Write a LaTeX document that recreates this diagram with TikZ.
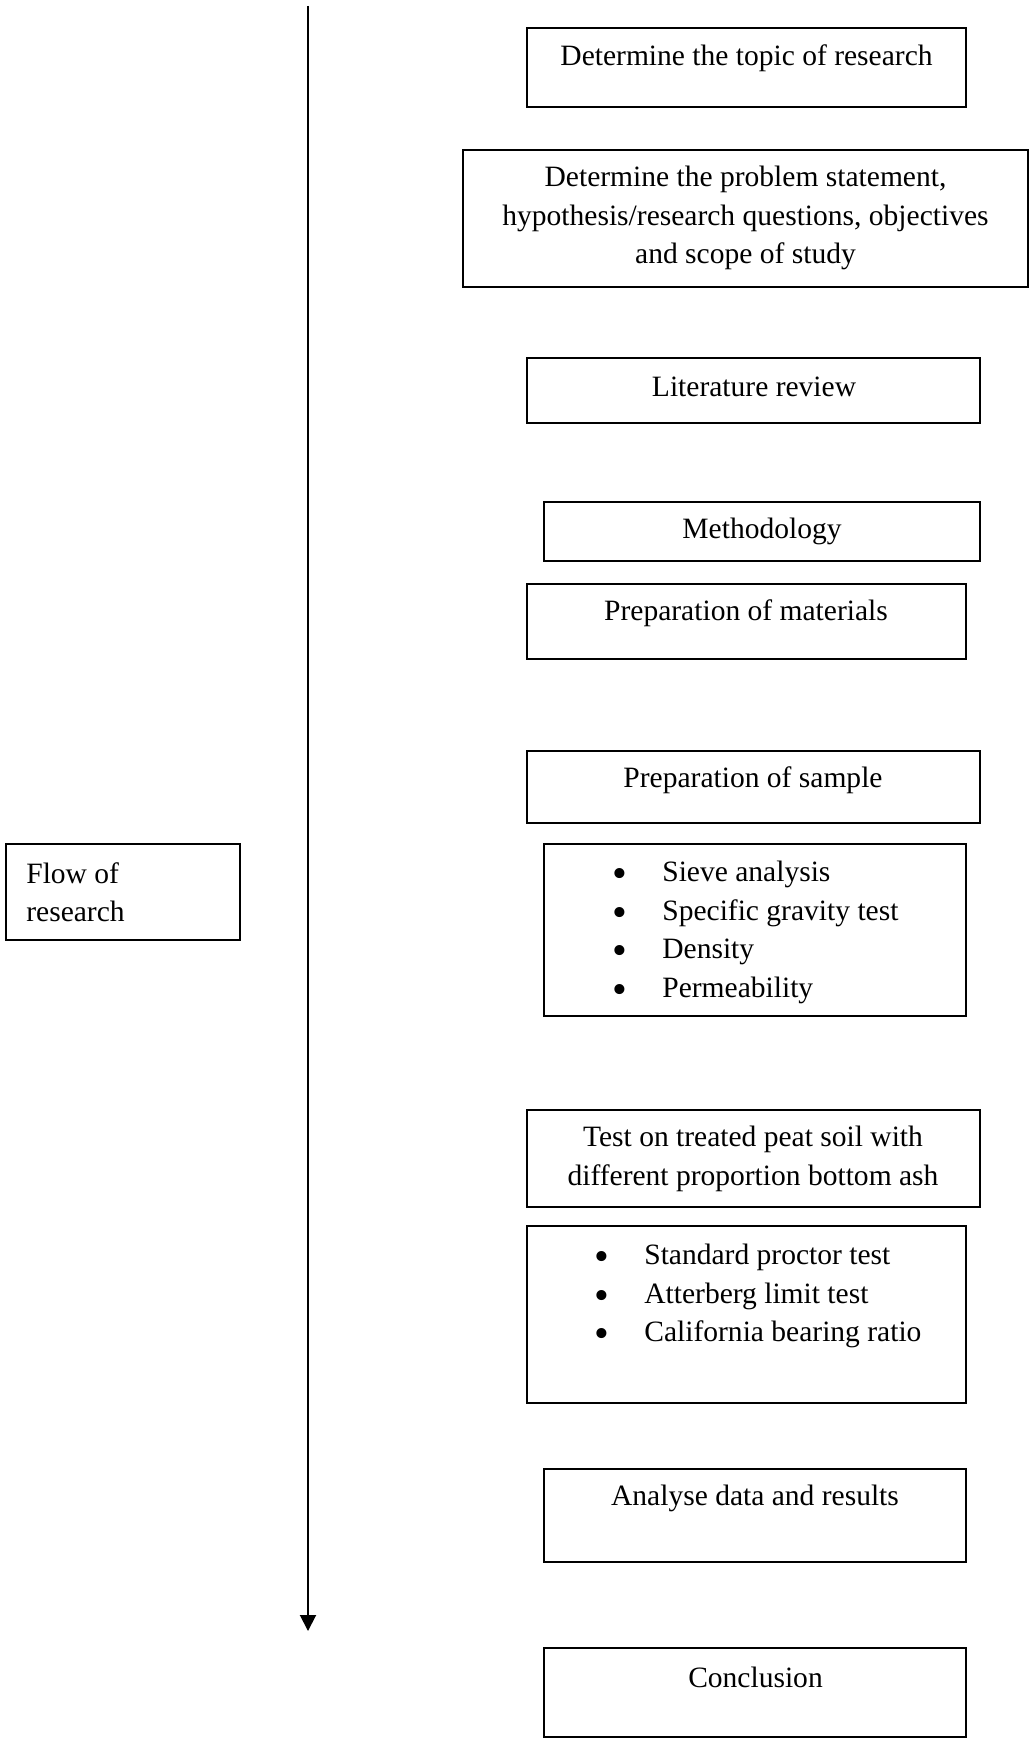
\documentclass[tikz,border=0pt]{standalone}
\usepackage{fontspec}
\setmainfont{Liberation Serif}
\usetikzlibrary{arrows.meta}

\tikzset{
	box/.style={line width=0.7pt},
	txt/.style={inner sep=0pt, align=center, font=\fontsize{16.8pt}{21.9pt}\selectfont},
	lefttxt/.style={txt, align=left, anchor=west},
	flowline/.style={line width=1.1pt, -{Triangle[width=0.32cm,length=0.32cm]}}
}
\newcommand{\bul}[1]{\makebox[0.99cm][l]{\smash{\raisebox{-3.5pt}{\fontsize{24pt}{24pt}\selectfont •}}}#1}

\begin{document}
\begin{tikzpicture}
	\useasboundingbox (0,0) rectangle (20.58,-34.76);

	% time line
	\coordinate (flowtop) at (6.16,-0.12);
	\coordinate (flowend) at (6.16,-32.62);
	\draw[flowline] (flowtop) -- (flowend);

	\draw[box] (0.12,-16.88) rectangle (4.80,-18.80);
	\node[lefttxt] (flow) at (0.52,-17.84) {Flow of\\research};

	% steps
	\draw[box] (10.54,-0.56) rectangle (19.32,-2.14);
	\node[txt] (topic) at (14.93,-1.16) {Determine the topic of research};

	\draw[box] (9.26,-3.00) rectangle (20.56,-5.74);
	\node[txt] (problem) at (14.91,-4.36) {Determine the problem statement,\\hypothesis/research questions, objectives\\and scope of study};

	\draw[box] (10.54,-7.16) rectangle (19.60,-8.46);
	\node[txt] (review) at (15.08,-7.74) {Literature review};

	\draw[box] (10.88,-10.04) rectangle (19.60,-11.22);
	\node[txt] (method) at (15.24,-10.62) {Methodology};

	\draw[box] (10.54,-11.68) rectangle (19.32,-13.18);
	\node[txt] (materials) at (14.92,-12.26) {Preparation of materials};

	\draw[box] (10.54,-15.02) rectangle (19.60,-16.46);
	\node[txt] (sample) at (15.06,-15.60) {Preparation of sample};

	\draw[box] (10.88,-16.88) rectangle (19.32,-20.32);
	\node[lefttxt] (sampletests) at (12.25,-18.65) {\bul{Sieve analysis}\\\bul{Specific gravity test}\\\bul{Density}\\\bul{Permeability}};

	\draw[box] (10.54,-22.20) rectangle (19.60,-24.14);
	\node[txt] (treated) at (15.06,-23.18) {Test on treated peat soil with\\different proportion bottom ash};

	\draw[box] (10.54,-24.52) rectangle (19.32,-28.06);
	\node[lefttxt] (soiltests) at (11.89,-25.92) {\bul{Standard proctor test}\\\bul{Atterberg limit test}\\\bul{California bearing ratio}};

	\draw[box] (10.88,-29.38) rectangle (19.32,-31.24);
	\node[txt] (analyse) at (15.10,-29.96) {Analyse data and results};

	\draw[box] (10.88,-32.96) rectangle (19.32,-34.74);
	\node[txt] (conclusion) at (15.11,-33.54) {Conclusion};
\end{tikzpicture}
\end{document}
